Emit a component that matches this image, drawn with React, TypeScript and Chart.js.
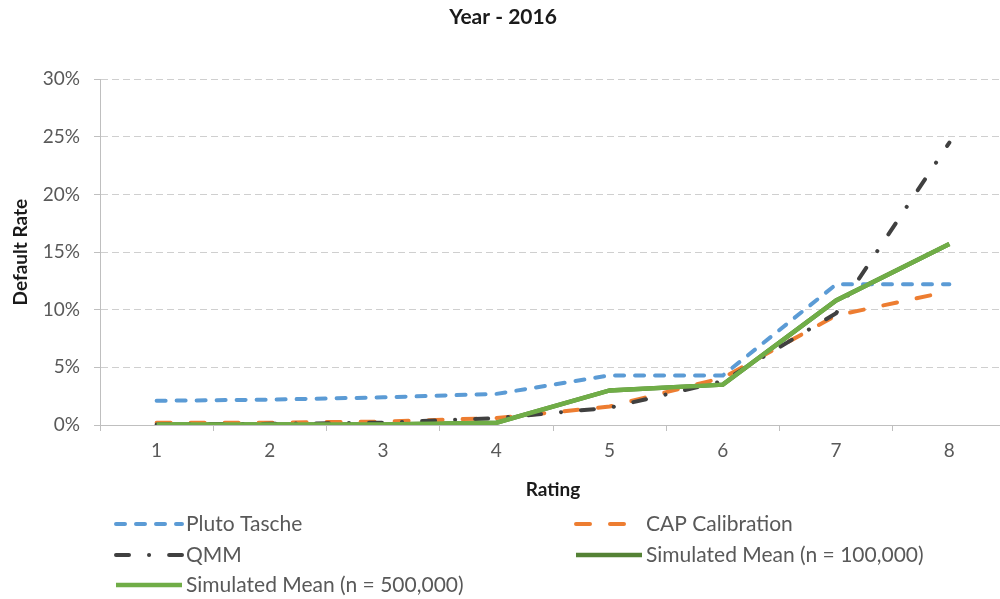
import React, { useEffect, useRef } from "react";
import { Chart, registerables } from "chart.js";

Chart.register(...registerables);

const ratings = ["1", "2", "3", "4", "5", "6", "7", "8"];
const plutoTasche = [2.1, 2.2, 2.4, 2.7, 4.3, 4.3, 12.2, 12.2];
const capCalibration = [0.2, 0.2, 0.3, 0.6, 1.6, 4.1, 9.5, 11.6];
const qmm = [0.05, 0.1, 0.2, 0.6, 1.5, 3.8, 9.7, 24.5];
const simMean100k = [0.05, 0.05, 0.05, 0.2, 3.0, 3.5, 10.8, 15.7];
const simMean500k = [0.05, 0.05, 0.05, 0.2, 3.0, 3.5, 10.8, 15.7];
const yMax = 30;
const yStep = 5;

const FONT = "Lato, 'Open Sans', sans-serif";
const TEXT_COLOR = "#595959";

const legendPlugin = {
  id: "twoColumnLegend",
  afterDraw(chart: any) {
    const ctx = chart.ctx;
    const datasets = chart.data.datasets;
    const colX = [114, 574];
    const rowY = [524, 555, 585];
    const lineLen = 68;
    ctx.save();
    datasets.forEach((ds: any, i: number) => {
      const col = i % 2;
      const row = Math.floor(i / 2);
      const x = colX[col];
      const y = rowY[row];
      ctx.beginPath();
      ctx.lineWidth = ds.borderWidth;
      ctx.strokeStyle = ds.borderColor;
      ctx.lineCap = ds.borderCapStyle || "butt";
      ctx.setLineDash(ds.borderDash || []);
      ctx.moveTo(x + 2, y);
      ctx.lineTo(x + lineLen, y);
      ctx.stroke();
      ctx.setLineDash([]);
      ctx.fillStyle = TEXT_COLOR;
      ctx.font = `21px ${FONT}`;
      ctx.textAlign = "left";
      ctx.textBaseline = "middle";
      ctx.fillText(ds.label, x + lineLen + 4, y);
    });
    ctx.restore();
  },
};

export default function App() {
  const ref = useRef<HTMLCanvasElement | null>(null);

  useEffect(() => {
    if (!ref.current) return;
    const chart = new Chart(ref.current, {
      type: "line",
      data: {
        labels: ratings,
        datasets: [
          {
            label: "Pluto Tasche",
            data: plutoTasche,
            borderColor: "#5B9BD5",
            borderWidth: 4,
            borderDash: [9, 11],
            borderCapStyle: "round",
            pointRadius: 0,
            tension: 0,
            fill: false,
            order: 2,
          },
          {
            label: "CAP Calibration",
            data: capCalibration,
            borderColor: "#ED7D31",
            borderWidth: 4,
            borderDash: [14, 20],
            borderCapStyle: "round",
            pointRadius: 0,
            tension: 0,
            fill: false,
            order: 3,
          },
          {
            label: "QMM",
            data: qmm,
            borderColor: "#404040",
            borderWidth: 4,
            borderDash: [13, 20, 0.1, 20],
            borderCapStyle: "round",
            pointRadius: 0,
            tension: 0,
            fill: false,
            order: 1,
          },
          {
            label: "Simulated Mean (n = 100,000)",
            data: simMean100k,
            borderColor: "#548235",
            borderWidth: 4.5,
            pointRadius: 0,
            tension: 0,
            fill: false,
            order: 4,
          },
          {
            label: "Simulated Mean (n = 500,000)",
            data: simMean500k,
            borderColor: "#70AD47",
            borderWidth: 4.5,
            pointRadius: 0,
            tension: 0,
            fill: false,
            order: 0,
          },
        ],
      },
      options: {
        responsive: false,
        animation: false,
        devicePixelRatio: 1,
        layout: { padding: { left: 0, right: 0, top: 0, bottom: 94 } },
        plugins: {
          legend: { display: false },
          tooltip: { enabled: false },
          title: {
            display: true,
            text: "Year - 2016",
            color: "#1a1a1a",
            font: { family: FONT, size: 21, weight: "bold" },
            padding: { top: 5, bottom: 49 },
          },
        },
        scales: {
          x: {
            offset: true,
            grid: {
              offset: true,
              drawOnChartArea: false,
              drawTicks: true,
              tickLength: 6,
              tickColor: "#BFBFBF",
              color: "#BFBFBF",
            },
            border: { display: true, color: "#BFBFBF", width: 1 },
            ticks: {
              color: TEXT_COLOR,
              font: { family: FONT, size: 19 },
              padding: 8,
              maxRotation: 0,
            },
            title: {
              display: true,
              text: "Rating",
              color: "#1a1a1a",
              font: { family: FONT, size: 19, weight: "bold" },
              padding: { top: 0, bottom: 4 },
            },
            afterFit(scale: any) {
              scale.height = 80;
            },
          },
          y: {
            min: 0,
            max: yMax,
            grid: {
              color: "#CFCFCF",
              tickColor: "#BFBFBF",
              tickLength: 6,
              drawTicks: true,
            },
            border: { display: true, color: "#BFBFBF", width: 1, dash: [7, 4] },
            ticks: {
              stepSize: yStep,
              color: TEXT_COLOR,
              font: { family: FONT, size: 19 },
              padding: 14,
              callback: (v: any) => `${v}%`,
            },
            title: {
              display: true,
              text: "Default Rate",
              color: "#1a1a1a",
              font: { family: FONT, size: 19, weight: "bold" },
              padding: { top: 9, bottom: 0 },
            },
            afterFit(scale: any) {
              scale.width = 100;
            },
          },
        },
      },
      plugins: [legendPlugin],
    });
    return () => chart.destroy();
  }, []);

  return (
    <div
      style={{
        position: "absolute",
        left: 0,
        top: 0,
        width: 1000,
        height: 599,
        overflow: "hidden",
        background: "#fff",
      }}
    >
      <canvas ref={ref} width={1006} height={599} style={{ display: "block" }} />
    </div>
  );
}
